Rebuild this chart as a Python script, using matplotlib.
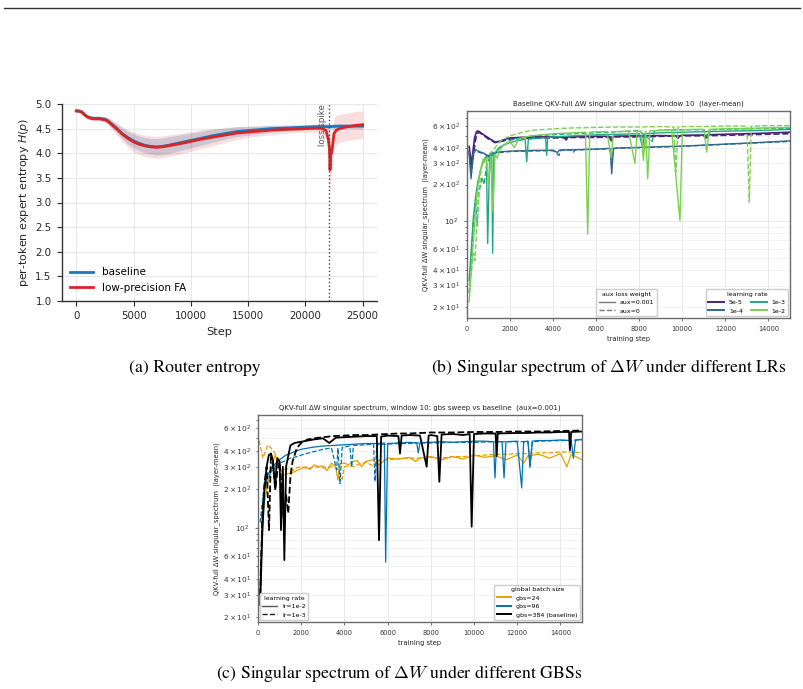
import matplotlib
matplotlib.use("Agg")
import matplotlib.pyplot as plt
from matplotlib import ticker
from matplotlib.lines import Line2D
import numpy as np

# ---------------- (a) router entropy ----------------
steps_base = [0, 250, 500, 750, 1000, 1250, 1500, 2000, 2500, 2750, 3000, 3500, 4000, 4500, 5000,
              5500, 6000, 6500, 7000, 7500, 8000, 9000, 10000, 11000, 12000, 13000, 14000, 15000,
              16000, 17000, 18000, 19000, 20000, 21000, 22000, 23000, 24000, 25000]
entropy_base = [4.86, 4.86, 4.84, 4.78, 4.74, 4.72, 4.71, 4.71, 4.69, 4.66, 4.61, 4.51, 4.40, 4.32,
                4.25, 4.20, 4.16, 4.14, 4.13, 4.14, 4.16, 4.21, 4.26, 4.31, 4.36, 4.40, 4.44, 4.46,
                4.48, 4.50, 4.51, 4.52, 4.53, 4.54, 4.54, 4.55, 4.55, 4.55]
std_base = [0.01, 0.01, 0.02, 0.03, 0.03, 0.03, 0.04, 0.04, 0.05, 0.06, 0.07, 0.09, 0.11, 0.13, 0.14,
            0.15, 0.16, 0.16, 0.17, 0.17, 0.17, 0.16, 0.15, 0.14, 0.13, 0.11, 0.10, 0.09, 0.08, 0.07,
            0.06, 0.06, 0.05, 0.05, 0.05, 0.05, 0.05, 0.05]

steps_fa = [0, 250, 500, 750, 1000, 1250, 1500, 2000, 2500, 2750, 3000, 3500, 4000, 4500, 5000, 5500,
            6000, 6500, 7000, 7500, 8000, 9000, 10000, 11000, 12000, 13000, 14000, 15000, 16000, 17000,
            18000, 19000, 20000, 21000, 21500, 21800, 22000, 22100, 22150, 22200, 22300, 22400, 22500,
            22700, 23000, 23500, 24000, 24500, 25000]
entropy_fa = [4.86, 4.85, 4.83, 4.77, 4.73, 4.71, 4.70, 4.70, 4.68, 4.65, 4.60, 4.50, 4.39, 4.30, 4.23,
              4.18, 4.15, 4.13, 4.12, 4.13, 4.15, 4.19, 4.24, 4.29, 4.33, 4.37, 4.41, 4.43, 4.45, 4.47,
              4.48, 4.49, 4.50, 4.51, 4.50, 4.46, 4.28, 4.10, 3.66, 3.95, 4.02, 4.20, 4.40, 4.47, 4.50,
              4.53, 4.55, 4.57, 4.58]
std_fa = [0.01, 0.01, 0.02, 0.03, 0.04, 0.04, 0.05, 0.05, 0.06, 0.07, 0.09, 0.12, 0.15, 0.18, 0.20,
          0.21, 0.22, 0.22, 0.22, 0.22, 0.22, 0.21, 0.20, 0.19, 0.17, 0.15, 0.13, 0.11, 0.10, 0.09,
          0.08, 0.07, 0.07, 0.08, 0.10, 0.15, 0.30, 0.50, 0.60, 0.50, 0.40, 0.35, 0.32, 0.30, 0.28,
          0.28, 0.28, 0.28, 0.28]
spike_step = 22100

# ---------------- (b) LR sweep, aux=0.001 (solid) / aux=0 (dashed) ----------------
lr_labels = ["5e-5", "1e-4", "1e-3", "1e-2"]
lr_colors = ["#482475", "#31688e", "#22a884", "#7ad151"]

lr5e5_aux1_steps = [100, 200, 350, 450, 550, 700, 1000, 1300, 1500, 1800, 2000, 3000, 4000, 4500, 4600,
                    4700, 5000, 6000, 6600, 6700, 6800, 7000, 8000, 9000, 9700, 9800, 9900, 10000,
                    11000, 11100, 11200, 12000, 13000, 14000, 15000]
lr5e5_aux1_vals = [410, 290, 480, 545, 545, 520, 480, 445, 450, 470, 480, 490, 490, 488, 462, 490, 492,
                   495, 495, 455, 495, 497, 500, 502, 500, 478, 502, 505, 508, 478, 510, 515, 520, 527,
                   535]
lr5e5_aux0_steps = [100, 200, 300, 400, 500, 600, 800, 1000, 1300, 1600, 2000, 3000, 4000, 5000, 6000,
                    7000, 8000, 9000, 10000, 11000, 12000, 13000, 14000, 15000]
lr5e5_aux0_vals = [380, 250, 350, 470, 530, 530, 500, 470, 440, 450, 470, 480, 480, 485, 485, 490, 490,
                   495, 500, 500, 505, 510, 515, 520]

lr1e4_aux1_steps = [100, 186, 300, 400, 600, 800, 1000, 1100, 1500, 2000, 3000, 4000, 4200, 4300, 5000,
                    6000, 6650, 6720, 6800, 7000, 8000, 9000, 10000, 11000, 12000, 13000, 14000, 15000]
lr1e4_aux1_vals = [360, 223, 370, 385, 370, 360, 335, 360, 370, 375, 380, 382, 365, 383, 385, 390, 395,
                   245, 395, 398, 402, 408, 412, 420, 428, 436, 445, 455]
lr1e4_aux0_steps = [100, 186, 300, 400, 600, 800, 1000, 1200, 1500, 2000, 3000, 4000, 4270, 4350, 4900,
                    4950, 5000, 6000, 6650, 6720, 6800, 7000, 8000, 9000, 10000, 11000, 12000, 13000,
                    14000, 15000]
lr1e4_aux0_vals = [380, 240, 360, 375, 365, 355, 345, 355, 365, 372, 376, 378, 346, 380, 382, 368, 383,
                   388, 392, 280, 392, 396, 400, 405, 410, 418, 426, 434, 442, 450]

lr1e3_aux1_steps = [100, 200, 300, 400, 500, 600, 700, 800, 900, 960, 1050, 1150, 1190, 1250, 1400,
                    1500, 1700, 2000, 2300, 2600, 2700, 2772, 2850, 3200, 3500, 3650, 3700, 3750, 4000,
                    5000, 6000, 7000, 8000, 8150, 8250, 9000, 10000, 11000, 12000, 13000, 14000, 15000]
lr1e3_aux1_vals = [33, 60, 110, 160, 210, 250, 290, 320, 340, 66, 330, 360, 55, 350, 380, 400, 420, 440,
                   455, 465, 470, 306, 470, 475, 480, 480, 346, 485, 490, 500, 510, 515, 520, 400, 520,
                   530, 535, 540, 545, 550, 555, 565]
lr1e3_aux0_steps = [100, 200, 300, 400, 480, 550, 700, 800, 900, 1000, 1200, 1500, 1800, 2000, 2500,
                    3000, 4000, 5000, 6000, 7000, 8000, 8600, 8700, 9000, 10000, 11000, 11200, 11300,
                    12000, 13000, 14000, 15000]
lr1e3_aux0_vals = [26, 50, 100, 140, 93, 170, 230, 200, 280, 320, 350, 400, 430, 460, 480, 500, 510,
                   520, 530, 540, 550, 450, 550, 555, 560, 560, 480, 560, 565, 570, 575, 575]

lr1e2_aux1_steps = [100, 200, 300, 400, 500, 600, 700, 800, 900, 1000, 1100, 1200, 1300, 1400, 1500,
                    1700, 2000, 2200, 2400, 2700, 3000, 3500, 4000, 4500, 5000, 5500, 5605, 5700, 6000,
                    6500, 6700, 6800, 7500, 7800, 7900, 8100, 8190, 8300, 8390, 8500, 9000, 9500, 9890,
                    10000, 10500, 11000, 11130, 11250, 12000, 13000, 14000, 15000]
lr1e2_aux1_vals = [22, 40, 70, 120, 190, 250, 300, 330, 320, 200, 340, 120, 350, 330, 380, 420, 450,
                   400, 470, 490, 500, 510, 520, 525, 530, 535, 79, 535, 540, 540, 330, 540, 545, 297,
                   545, 545, 315, 545, 223, 550, 555, 560, 102, 560, 565, 565, 368, 565, 570, 575, 580,
                   585]
lr1e2_aux0_steps = [100, 200, 300, 372, 450, 550, 650, 750, 850, 1000, 1200, 1400, 1600, 2000, 2500,
                    3000, 4000, 5000, 6000, 7000, 8000, 9000, 9600, 9706, 9800, 10000, 11000, 12000,
                    13000, 13110, 13200, 14000, 15000]
lr1e2_aux0_vals = [30, 38, 55, 48, 90, 180, 260, 320, 300, 350, 380, 420, 460, 500, 530, 555, 570, 580,
                   585, 590, 590, 595, 590, 253, 590, 595, 595, 600, 600, 144, 600, 605, 605]

# ---------------- (c) GBS sweep, lr=1e-2 (solid) / lr=1e-3 (dashed) ----------------
gbs_labels = ["gbs=24", "gbs=96", "gbs=384 (baseline)"]
gbs_colors = ["#e69f00", "#0072b2", "#000000"]

gbs24_lr2_steps = [100, 200, 300, 400, 500, 600, 700, 800, 1000, 1200, 1400, 1600, 1800, 2000, 2200,
                   2400, 2600, 2800, 3000, 3200, 3400, 3600, 3700, 3800, 4000, 4200, 4400, 4600, 4800,
                   5000, 5300, 5600, 6000, 6500, 7000, 7300, 7500, 8000, 8500, 9000, 9500, 10000,
                   10500, 11000, 11500, 12000, 12300, 12500, 13000, 13500, 14000, 14300, 14500, 15000]
gbs24_lr2_vals = [30, 110, 160, 200, 240, 280, 330, 370, 290, 260, 265, 270, 280, 290, 300, 285, 310,
                  300, 305, 280, 320, 300, 236, 315, 320, 310, 330, 335, 300, 330, 340, 310, 350, 345,
                  355, 330, 350, 360, 340, 360, 345, 370, 355, 365, 340, 370, 320, 365, 375, 350, 380,
                  300, 375, 340]
gbs24_lr3_steps = [50, 230, 450, 600, 787, 1020, 1200, 1400, 1600, 1800, 2000, 2300, 2600, 3000, 3400,
                   3700, 3900, 4000, 4200, 4400, 4700, 5000, 5400, 5500, 6000, 6500, 7000, 7500, 8000,
                   8500, 9000, 9500, 10000, 10500, 11000, 11500, 12000, 12500, 13000, 13500, 14000,
                   14500, 15000]
gbs24_lr3_vals = [480, 351, 443, 420, 384, 274, 285, 290, 280, 295, 300, 290, 300, 295, 300, 290, 240,
                  300, 305, 300, 315, 325, 300, 335, 340, 345, 350, 350, 355, 350, 360, 360, 365, 370,
                  375, 375, 380, 380, 385, 385, 390, 390, 385]

gbs96_lr2_steps = [100, 200, 300, 400, 500, 700, 900, 1100, 1300, 1500, 1700, 2000, 2500, 3000, 3500,
                   4000, 4500, 5000, 5500, 5850, 5910, 6000, 6500, 7000, 7350, 7420, 7500, 8000, 8500,
                   9000, 9500, 10000, 10500, 10900, 10970, 11050, 11300, 11390, 11480, 12000, 12207,
                   12300, 12500, 12593, 12700, 13000, 13500, 14000, 14500, 14600, 14700, 15000]
gbs96_lr2_vals = [30, 130, 200, 240, 270, 300, 330, 350, 370, 380, 395, 410, 425, 435, 440, 445, 450,
                  455, 455, 460, 54, 455, 460, 465, 460, 384, 462, 465, 470, 465, 470, 475, 475, 470,
                  245, 470, 470, 245, 470, 475, 205, 470, 475, 296, 475, 480, 480, 485, 480, 350, 485,
                  490]
gbs96_lr3_steps = [100, 200, 300, 400, 600, 800, 1000, 1200, 1500, 1800, 2000, 2500, 3000, 3400, 3642,
                   3700, 3796, 3900, 4250, 4338, 4420, 5000, 5350, 5417, 5500, 6000, 6500, 7000, 7500,
                   8000, 9000, 10000, 11000, 12000, 12500, 12593, 12700, 13000, 14000, 15000]
gbs96_lr3_vals = [110, 160, 220, 230, 270, 300, 320, 330, 350, 360, 370, 390, 410, 420, 283, 420, 222,
                  425, 435, 300, 440, 445, 450, 230, 445, 450, 455, 455, 460, 460, 465, 465, 470, 470,
                  470, 300, 470, 475, 480, 485]

gbs384_lr2_steps = [100, 200, 300, 400, 500, 600, 700, 800, 850, 900, 1000, 1065, 1150, 1219, 1300,
                    1500, 1700, 2000, 2300, 2600, 3000, 3300, 3600, 4000, 4500, 5000, 5500, 5602, 5700,
                    6000, 6500, 6574, 6650, 7000, 7500, 7809, 7900, 8000, 8300, 8395, 8500, 9000, 9500,
                    9800, 9892, 10000, 10500, 11000, 11050, 11100, 12000, 12500, 13000, 13500, 14000,
                    14400, 14440, 14500, 15000]
gbs384_lr2_vals = [25, 90, 200, 300, 370, 380, 330, 200, 300, 350, 330, 96, 300, 56, 300, 440, 460, 470,
                   480, 490, 500, 460, 505, 510, 515, 520, 520, 80, 515, 525, 520, 380, 525, 530, 525,
                   300, 525, 530, 520, 229, 535, 540, 530, 540, 102, 540, 545, 545, 364, 545, 550, 550,
                   555, 555, 560, 560, 404, 560, 565]
gbs384_lr3_steps = [100, 200, 300, 400, 510, 600, 700, 800, 900, 1000, 1100, 1200, 1300, 1400, 1500,
                    1600, 1800, 2000, 2300, 2600, 3000, 3500, 4000, 4500, 5000, 5500, 6000, 6500, 7000,
                    7500, 8000, 9000, 10000, 11000, 12000, 13000, 14000, 15000]
gbs384_lr3_vals = [30, 120, 220, 300, 96, 380, 300, 200, 280, 330, 200, 110, 180, 130, 250, 330, 420,
                   460, 490, 500, 510, 520, 525, 530, 530, 535, 540, 545, 545, 550, 555, 555, 560, 560,
                   565, 565, 570, 575]

# ---------------- figure ----------------
W, H = 804, 689
fig = plt.figure(figsize=(W / 100, H / 100), dpi=100)


def px_axes(x0, y0, x1, y1):
    return fig.add_axes([x0 / W, 1 - y1 / H, (x1 - x0) / W, (y1 - y0) / H])


fig.add_artist(Line2D([4 / W, 800 / W], [1 - 7.5 / H] * 2, color="#333333", lw=1.0))

# panel (a)
ax = px_axes(62, 104, 377, 301)
ax.fill_between(steps_base, np.array(entropy_base) - std_base, np.array(entropy_base) + std_base,
                color="#1f77b4", alpha=0.22, lw=0)
ax.fill_between(steps_fa, np.array(entropy_fa) - std_fa, np.array(entropy_fa) + std_fa,
                color="#d62728", alpha=0.15, lw=0)
ax.plot(steps_base, entropy_base, color="#1f77b4", lw=2.0, label="baseline")
ax.plot(steps_fa, entropy_fa, color="#d62728", lw=2.0, label="low-precision FA")
ax.axvline(spike_step, color="#444444", ls=":", lw=1.0)
ax.text(spike_step - 200, 5.0, "loss spike", rotation=90, ha="right", va="top",
        fontsize=6.2, color="#555555")
ax.set_xlim(-1250, 26250)
ax.set_ylim(1.0, 5.0)
ax.set_xticks([0, 5000, 10000, 15000, 20000, 25000])
ax.set_yticks(np.arange(1.0, 5.01, 0.5))
ax.yaxis.set_major_formatter(ticker.FormatStrFormatter("%.1f"))
ax.grid(color="#e8e8e8", lw=0.8)
ax.set_axisbelow(True)
for s in ["top", "right"]:
    ax.spines[s].set_visible(False)
for s in ["left", "bottom"]:
    ax.spines[s].set_color("#333333")
    ax.spines[s].set_linewidth(1.0)
ax.tick_params(labelsize=7.4, colors="#262626", length=3.5, width=0.8, pad=4)
ax.set_xlabel("Step", fontsize=8.2, color="#262626", labelpad=4)
ax.set_ylabel("per-token expert entropy $H(p)$", fontsize=8.0, color="#262626", labelpad=3)
ax.legend(loc="lower left", frameon=False, fontsize=7.5, handlelength=2.2, borderaxespad=0.4)


def style_log(ax, ylim, title):
    ax.set_yscale("log")
    ax.set_xlim(0, 15000)
    ax.set_ylim(*ylim)
    ax.set_xticks(range(0, 15001, 2000))
    ax.yaxis.set_minor_formatter(ticker.LogFormatterSciNotation(labelOnlyBase=False,
                                                                minor_thresholds=(2, 0.4)))
    ax.grid(True, which="major", color="#e6e6e6", lw=0.6)
    ax.grid(True, which="minor", axis="y", color="#efefef", lw=0.5)
    ax.set_axisbelow(True)
    for s in ax.spines.values():
        s.set_color("#6b6b6b")
        s.set_linewidth(1.0)
    ax.tick_params(which="both", colors="#333333", width=0.5)
    ax.tick_params(axis="x", labelsize=4.8)
    ax.tick_params(axis="y", which="both", labelsize=5.3)
    ax.tick_params(which="major", length=2.5)
    ax.tick_params(which="minor", length=1.5)
    ax.set_title(title, fontsize=5.0, color="#222222", pad=4)
    ax.set_xlabel("training step", fontsize=4.9, color="#222222", labelpad=2.5)
    ax.set_ylabel("QKV-full \u0394W singular_spectrum  (layer-mean)", fontsize=4.9,
                  color="#222222", labelpad=2)


leg_kw = dict(fontsize=4.5, title_fontsize=4.5, borderaxespad=0.3, framealpha=1,
              edgecolor="#cccccc", fancybox=True)

# panel (b)
ax = px_axes(467, 111, 790, 318)
b_series = [
    (lr5e5_aux1_steps, lr5e5_aux1_vals, lr5e5_aux0_steps, lr5e5_aux0_vals),
    (lr1e4_aux1_steps, lr1e4_aux1_vals, lr1e4_aux0_steps, lr1e4_aux0_vals),
    (lr1e3_aux1_steps, lr1e3_aux1_vals, lr1e3_aux0_steps, lr1e3_aux0_vals),
    (lr1e2_aux1_steps, lr1e2_aux1_vals, lr1e2_aux0_steps, lr1e2_aux0_vals),
]
for (s1, v1, s0, v0), c, w in zip(b_series, lr_colors, [1.2, 1.0, 1.0, 1.0]):
    ax.plot(s1, v1, color=c, lw=w)
    ax.plot(s0, v0, color=c, lw=w, ls="--")
style_log(ax, (16.3, 797), "Baseline QKV-full \u0394W singular spectrum, window 10  (layer-mean)")
h_lr = [Line2D([], [], color=c, lw=1.4) for c in lr_colors]
leg2 = ax.legend(h_lr, lr_labels, title="learning rate", ncol=2, loc="lower right",
                 handlelength=2.5, columnspacing=1.3, **leg_kw)
ax.add_artist(leg2)
h_aux = [Line2D([], [], color="#777777", lw=1.0), Line2D([], [], color="#777777", lw=1.0, ls="--")]
ax.legend(h_aux, ["aux=0.001", "aux=0"], title="aux loss weight", loc="lower right",
          bbox_to_anchor=(0.593, 0.0), handlelength=2.6, **leg_kw)

# panel (c)
ax = px_axes(258, 415, 582, 622)
c_series = [
    (gbs24_lr2_steps, gbs24_lr2_vals, gbs24_lr3_steps, gbs24_lr3_vals),
    (gbs96_lr2_steps, gbs96_lr2_vals, gbs96_lr3_steps, gbs96_lr3_vals),
    (gbs384_lr2_steps, gbs384_lr2_vals, gbs384_lr3_steps, gbs384_lr3_vals),
]
for (s2, v2, s3, v3), c, w in zip(c_series, gbs_colors, [0.9, 0.9, 1.3]):
    ax.plot(s2, v2, color=c, lw=w)
    ax.plot(s3, v3, color=c, lw=w, ls="--")
style_log(ax, (18.4, 760), "QKV-full \u0394W singular spectrum, window 10: gbs sweep vs baseline  (aux=0.001)")
h_g = [Line2D([], [], color=c, lw=1.4) for c in gbs_colors]
leg_g = ax.legend(h_g, gbs_labels, title="global batch size", loc="lower right",
                  handlelength=2.3, **leg_kw)
ax.add_artist(leg_g)
h_lr2 = [Line2D([], [], color="#555555", lw=1.0), Line2D([], [], color="#222222", lw=1.0, ls="--")]
ax.legend(h_lr2, ["lr=1e-2", "lr=1e-3"], title="learning rate", loc="lower left",
          handlelength=2.4, **leg_kw)

# captions
cap = dict(fontsize=12.8, family="STIXGeneral", math_fontfamily="cm", ha="center", va="center")
fig.text(195 / W, 1 - 368 / H, "(a) Router entropy", **cap)
fig.text(609 / W, 1 - 367 / H, r"(b) Singular spectrum of $\Delta W$ under different LRs", **cap)
fig.text(399 / W, 1 - 673 / H, r"(c) Singular spectrum of $\Delta W$ under different GBSs", **cap)

fig.savefig("out.png", dpi=100)
